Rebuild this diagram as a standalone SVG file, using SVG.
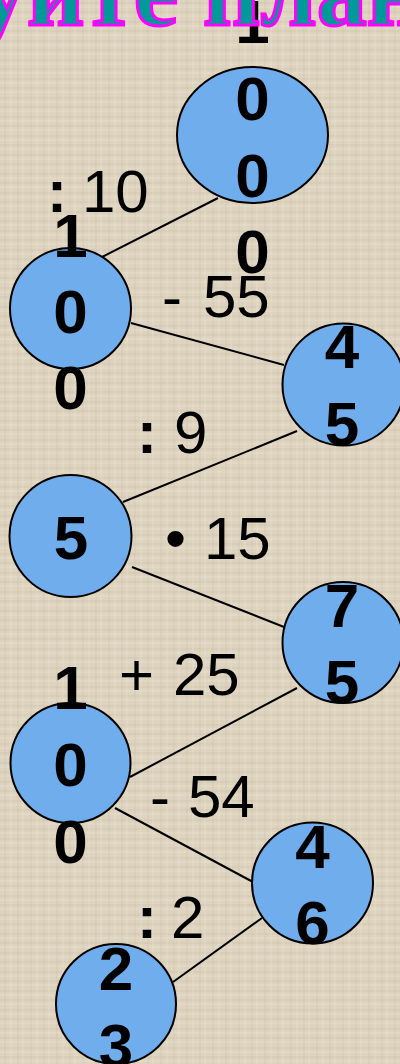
<svg xmlns="http://www.w3.org/2000/svg" width="400" height="1064" viewBox="0 0 400 1064">
<defs>
<pattern id="tex" width="26" height="19" patternUnits="userSpaceOnUse">
<rect width="26" height="19" fill="#ddd3be"/>
<path d="M0 3H26M0 12H26" stroke="#cbc0a8" stroke-width="1" opacity="0.55"/>
<path d="M0 7H26M0 16H26" stroke="#ebe4d3" stroke-width="1" opacity="0.65"/>
<path d="M5 0V19M18 0V19" stroke="#c9bea6" stroke-width="1" opacity="0.45"/>
<path d="M11 0V19M23 0V19" stroke="#eae3d2" stroke-width="1" opacity="0.55"/>
</pattern>
<style>
.node{fill:#6fadec;stroke:#000;stroke-width:2}
.dig{font-family:"Liberation Sans",Arial,sans-serif;font-weight:bold;font-size:62px;fill:#000;text-anchor:middle}
.lbl{font-family:"Liberation Sans",Arial,sans-serif;font-size:60px;fill:#000}
.b{font-weight:bold}
.edge{stroke:#000;stroke-width:2;fill:none}
.title{font-family:"Liberation Serif","Times New Roman",serif;font-weight:bold;font-size:100px;fill:#009999;stroke:#ff00ff;stroke-width:3}
</style>
</defs>
<rect width="400" height="1064" fill="url(#tex)"/>
<g id="connectors">
<line class="edge" x1="102" y1="257" x2="218" y2="198"/>
<line class="edge" x1="131" y1="323" x2="284" y2="365"/>
<line class="edge" x1="123" y1="502" x2="297" y2="431"/>
<line class="edge" x1="132" y1="567" x2="284" y2="627"/>
<line class="edge" x1="130" y1="777" x2="297" y2="688"/>
<line class="edge" x1="115" y1="808" x2="253" y2="882"/>
<line class="edge" x1="262" y1="918" x2="173" y2="982"/>
</g>
<g id="labels">
<text class="lbl" y="212"><tspan class="b" x="47">:</tspan><tspan x="82">10</tspan></text>
<text class="lbl" y="317"><tspan x="162">-</tspan><tspan x="203">55</tspan></text>
<text class="lbl" y="453"><tspan class="b" x="137">:</tspan><tspan x="174">9</tspan></text>
<text class="lbl" y="559"><tspan x="165">•</tspan><tspan x="204">15</tspan></text>
<text class="lbl" y="695"><tspan x="119">+</tspan><tspan x="173">25</tspan></text>
<text class="lbl" y="817"><tspan x="150">-</tspan><tspan x="188">54</tspan></text>
<text class="lbl" y="938"><tspan class="b" x="137">:</tspan><tspan x="171">2</tspan></text>
</g>
<g id="n100a">
<ellipse class="node" cx="252.5" cy="135" rx="75.5" ry="68"/>
<text class="dig" x="252.5" y="43">1</text>
<text class="dig" x="252.5" y="120">0</text>
<text class="dig" x="252.5" y="197">0</text>
<text class="dig" x="252.5" y="273">0</text>
</g>
<g id="n100b">
<circle class="node" cx="70.5" cy="308.5" r="60.5"/>
<text class="dig" x="70.5" y="257">1</text>
<text class="dig" x="70.5" y="333">0</text>
<text class="dig" x="70.5" y="409">0</text>
</g>
<g id="n45">
<circle class="node" cx="343.5" cy="384.5" r="61"/>
<text class="dig" x="342" y="368">4</text>
<text class="dig" x="342" y="445">5</text>
</g>
<g id="n5">
<circle class="node" cx="70.5" cy="536" r="61"/>
<text class="dig" x="71" y="559">5</text>
</g>
<g id="n75">
<circle class="node" cx="343" cy="642.5" r="60.5"/>
<text class="dig" x="342" y="627">7</text>
<text class="dig" x="342" y="703">5</text>
</g>
<g id="n100c">
<circle class="node" cx="70.5" cy="763" r="60"/>
<text class="dig" x="70.5" y="709">1</text>
<text class="dig" x="70.5" y="786">0</text>
<text class="dig" x="70.5" y="863">0</text>
</g>
<g id="n46">
<circle class="node" cx="312.5" cy="883" r="60.5"/>
<text class="dig" x="312.5" y="868">4</text>
<text class="dig" x="312.5" y="944">6</text>
</g>
<g id="n23">
<circle class="node" cx="116" cy="1004" r="60"/>
<text class="dig" x="116" y="990">2</text>
<text class="dig" x="116" y="1067">3</text>
</g>
<text class="title" x="-23" y="25">уйте план</text>
</svg>
